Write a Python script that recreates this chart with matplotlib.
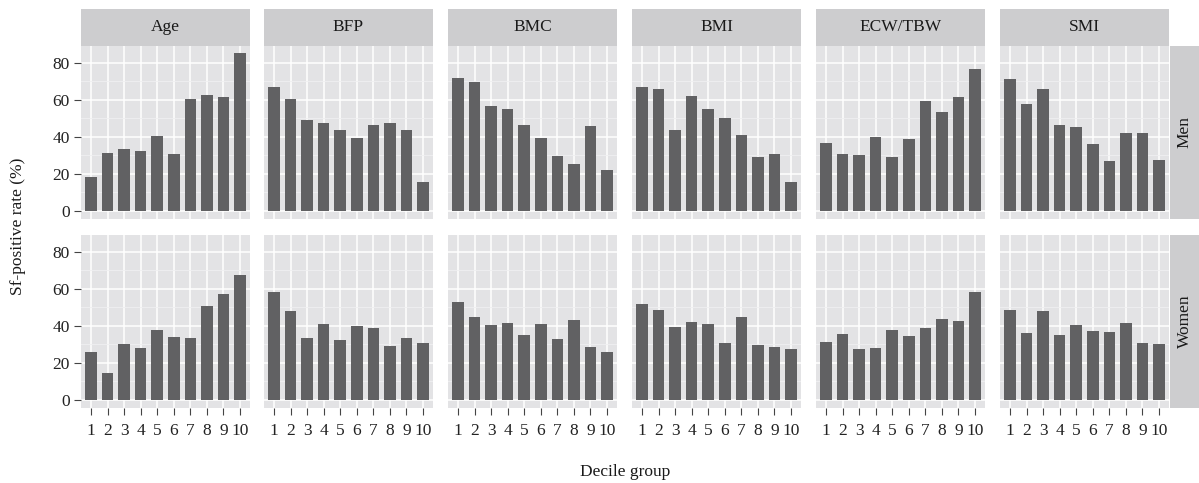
import matplotlib
matplotlib.use("Agg")
import matplotlib.pyplot as plt

plt.rcParams['font.family'] = ['Liberation Serif', 'DejaVu Serif']

# variables in facet order, decile groups 1..10
variables = ["Age", "BFP", "BMC", "BMI", "ECW/TBW", "SMI"]
sexes = ["Men", "Women"]
deciles = [1, 2, 3, 4, 5, 6, 7, 8, 9, 10]

men = {
    "Age": [18.2, 31.2, 33.3, 32.3, 40.4, 30.6, 60.4, 62.5, 61.4, 85.2],
    "BFP": [66.8, 60.4, 49.0, 47.4, 43.6, 39.3, 46.3, 47.4, 43.6, 15.5],
    "BMC": [71.7, 69.5, 56.6, 55.0, 46.3, 39.3, 29.5, 25.2, 45.8, 22.0],
    "BMI": [66.8, 65.8, 43.6, 62.0, 55.0, 50.1, 40.9, 29.0, 30.6, 15.5],
    "ECW/TBW": [36.6, 30.6, 30.1, 39.8, 29.0, 38.7, 59.3, 53.3, 61.4, 76.6],
    "SMI": [71.2, 57.7, 65.8, 46.3, 45.2, 36.0, 26.8, 42.0, 42.0, 27.4],
}
women = {
    "Age": [25.6, 14.3, 30.0, 27.8, 37.5, 33.8, 33.2, 50.5, 57.0, 67.3],
    "BFP": [58.1, 47.8, 33.2, 40.8, 32.1, 39.7, 38.6, 28.9, 33.2, 30.5],
    "BMC": [52.7, 44.6, 40.3, 41.3, 34.8, 40.8, 32.7, 43.0, 28.3, 25.6],
    "BMI": [51.6, 48.4, 39.2, 41.9, 40.8, 30.5, 44.6, 29.4, 28.3, 27.3],
    "ECW/TBW": [31.0, 35.4, 27.3, 27.8, 37.5, 34.3, 38.6, 43.5, 42.4, 58.1],
    "SMI": [48.4, 35.9, 47.8, 34.8, 40.3, 37.0, 36.5, 41.3, 30.5, 30.0],
}
yticks = [0, 20, 40, 60, 80]

W, H = 1199, 483
BAR = "#616163"
PANEL = "#e3e3e5"
STRIP = "#cdcdcf"
FS = 12.5

fig = plt.figure(figsize=(W / 100, H / 100), dpi=100)

col_left = [81, 264, 448, 632, 816, 1000]
col_w = 169
row_top = [45.5, 234.5]
row_h = 173

ymax = max(max(v) for v in men.values())
ylim = (-0.05 * ymax, ymax * 1.05)


def px_axes(x, y, w, h):
    return fig.add_axes([x / W, 1 - (y + h) / H, w / W, h / H])


def strip_axes(x, y, w, h, label, rot=0):
    st = px_axes(x, y, w, h)
    st.set_facecolor(STRIP)
    st.set_xticks([])
    st.set_yticks([])
    for s in st.spines.values():
        s.set_visible(False)
    st.text(0.5, 0.5, label, ha="center", va="center", fontsize=FS,
            rotation=rot, color="#1a1a1a", transform=st.transAxes)


for r, data in enumerate([men, women]):
    for c, var in enumerate(variables):
        ax = px_axes(col_left[c], row_top[r], col_w, row_h)
        ax.set_facecolor(PANEL)
        ax.bar(deciles, data[var], width=0.7, color=BAR, zorder=3)
        ax.set_xlim(0.4, 10.6)
        ax.set_ylim(*ylim)
        ax.set_xticks(deciles)
        ax.set_yticks(yticks)
        ax.set_yticks([10, 30, 50, 70], minor=True)
        ax.grid(True, which="major", color="white", lw=1.1, zorder=1)
        ax.grid(True, which="minor", axis="y", color="#f0f0f2", lw=0.6, zorder=1)
        for s in ax.spines.values():
            s.set_visible(False)
        ax.tick_params(which="minor", length=0)
        ax.tick_params(which="major", length=5, width=0.8, color="#444444",
                       labelsize=FS, pad=3, labelcolor="#222222")
        if c != 0:
            ax.tick_params(axis="y", which="major", left=False, labelleft=False)
        if r != 1:
            ax.tick_params(axis="x", which="major", bottom=False, labelbottom=False)
        else:
            ax.tick_params(axis="x", pad=6)

        if r == 0:
            strip_axes(col_left[c], 9, col_w, 36.5, var)
        if c == len(variables) - 1:
            strip_axes(1170, row_top[r], 29, row_h, sexes[r], rot=90)

fig.text(18 / W, 1 - 226 / H, "Sf-positive rate (%)", rotation=90,
         ha="center", va="center", fontsize=FS, color="#1a1a1a")
fig.text(625 / W, 1 - 472 / H, "Decile group", ha="center", va="center",
         fontsize=FS, color="#1a1a1a")

fig.savefig("out.png", dpi=100)
